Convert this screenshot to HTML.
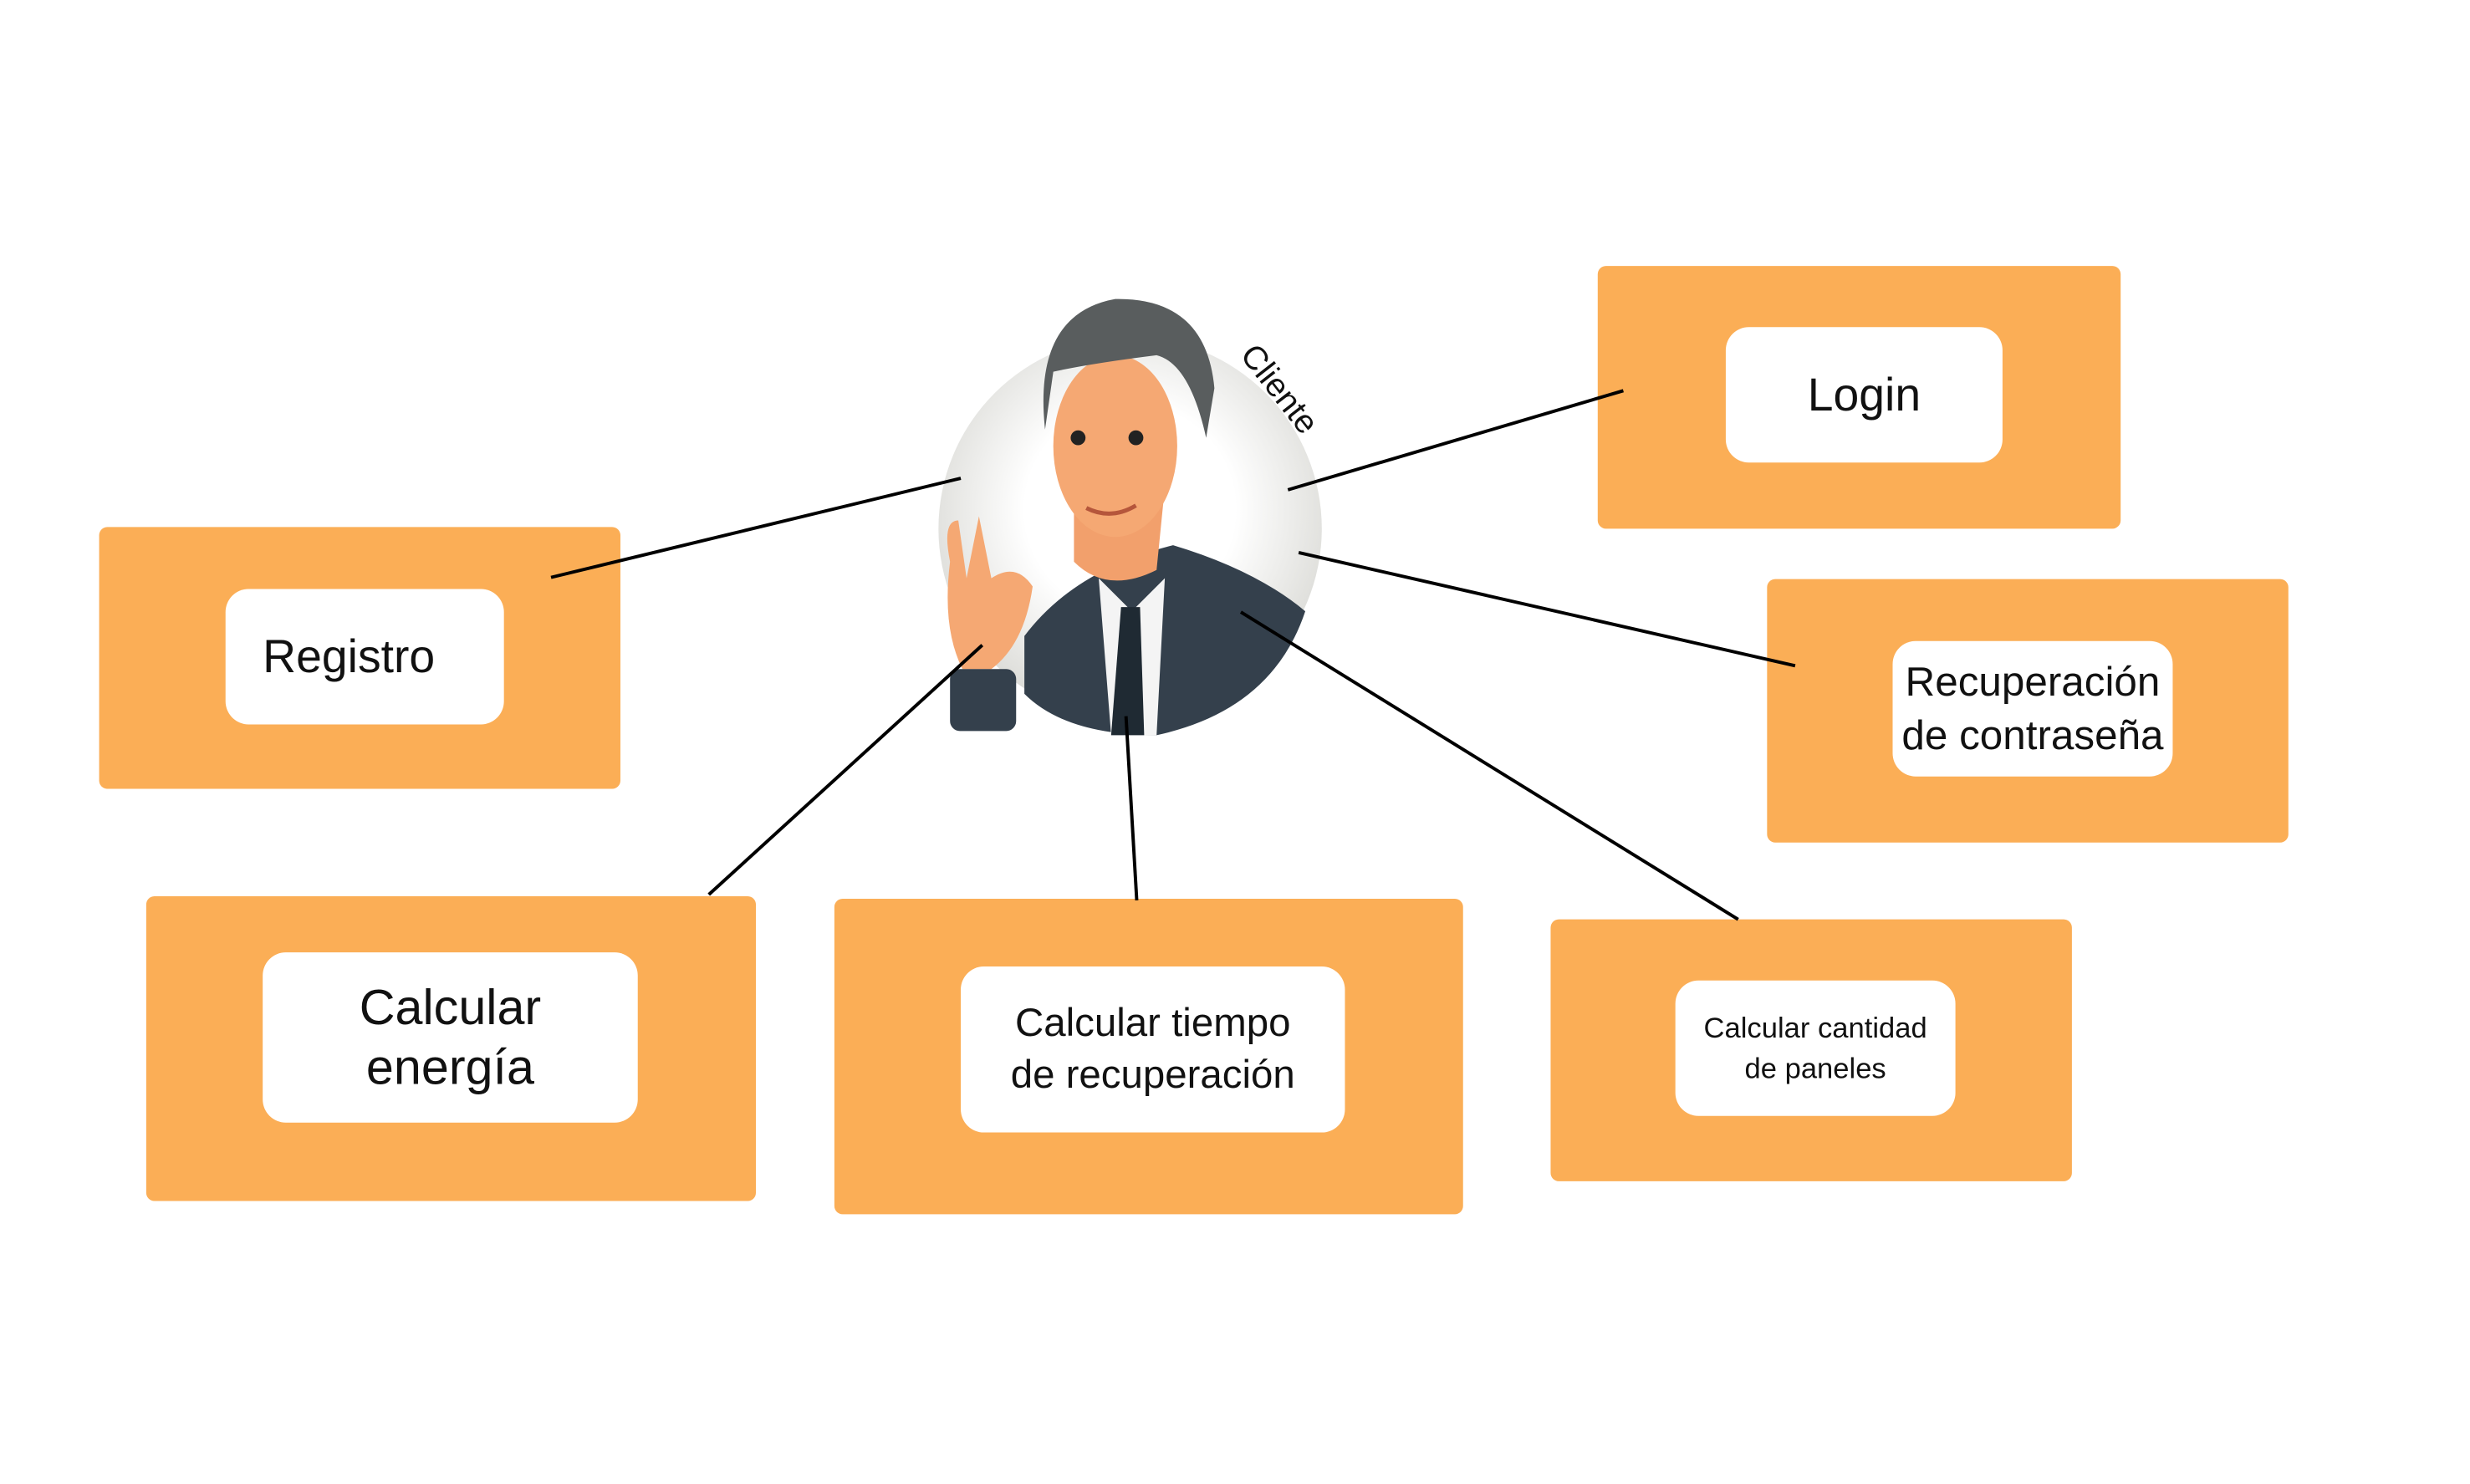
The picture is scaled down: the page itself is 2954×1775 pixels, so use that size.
<!DOCTYPE html>
<html><head><meta charset="utf-8"><style>
body{margin:0;width:2954px;height:1775px;background:#fff;position:relative;overflow:hidden;font-family:"Liberation Sans Narrow","Liberation Sans",sans-serif;}
#w{position:absolute;left:0;top:0;width:2954px;height:1775px;transform:scale(0.988);transform-origin:0 0;}
.o{position:absolute;background:#FBAE56;border-radius:10px;}
.i{position:absolute;background:#fff;border-radius:28px;display:flex;align-items:center;justify-content:center;text-align:center;color:#111;line-height:1.3;}
</style></head><body><div id="w">
<div class="o" style="left:1934px;top:322px;width:633px;height:318px"></div>
<div class="i" style="left:2089px;top:396px;width:335px;height:164px;font-size:56px">Login</div>
<div class="o" style="left:2139px;top:701px;width:631px;height:319px"></div>
<div class="i" style="left:2291px;top:776px;width:339px;height:164px;font-size:50px">Recuperación<br>de contraseña</div>
<div class="o" style="left:120px;top:638px;width:631px;height:317px"></div>
<div class="i" style="left:273px;top:713px;width:337px;height:164px;font-size:56px;justify-content:flex-start;padding-left:45px;box-sizing:border-box">Registro</div>
<div class="o" style="left:177px;top:1085px;width:738px;height:369px"></div>
<div class="i" style="left:318px;top:1153px;width:454px;height:206px;font-size:60px;line-height:1.2">Calcular<br>energía</div>
<div class="o" style="left:1010px;top:1088px;width:761px;height:382px"></div>
<div class="i" style="left:1163px;top:1170px;width:465px;height:201px;font-size:48px;line-height:1.3">Calcular tiempo<br>de recuperación</div>
<div class="o" style="left:1877px;top:1113px;width:631px;height:317px"></div>
<div class="i" style="left:2028px;top:1187px;width:339px;height:164px;font-size:35px;line-height:1.4">Calcular cantidad<br>de paneles</div>
<svg style="position:absolute;left:0;top:0" width="2954" height="1775">
<defs><radialGradient id="g" cx="0.5" cy="0.45" r="0.55"><stop offset="0.5" stop-color="#fff"/><stop offset="1" stop-color="#dcdcd8"/></radialGradient></defs>
<circle cx="1368" cy="640" r="232" fill="url(#g)"/>
<path d="M1240 770 Q1300 690 1420 660 Q1520 690 1580 740 Q1540 860 1400 890 Q1290 890 1240 840Z" fill="#34404c"/>
<path d="M1330 700 L1370 740 L1410 700 L1400 890 L1345 890Z" fill="#f4f4f4"/>
<path d="M1357 735 L1380 735 L1385 890 L1345 890Z" fill="#1f2a33"/>
<path d="M1300 560 L1300 680 Q1340 720 1400 690 L1410 590Z" fill="#f2a06c"/>
<ellipse cx="1350" cy="540" rx="75" ry="110" fill="#f5a873"/>
<path d="M1265 520 Q1250 380 1350 362 Q1460 360 1470 470 L1460 530 Q1440 440 1400 430 Q1320 440 1275 450Z" fill="#595d5e"/>
<circle cx="1305" cy="530" r="9" fill="#222"/><circle cx="1375" cy="530" r="9" fill="#222"/>
<path d="M1315 615 Q1345 630 1375 612" stroke="#b5563b" stroke-width="5" fill="none"/>
<path d="M1150 680 Q1140 630 1160 630 L1170 700 L1185 625 L1200 700 Q1230 680 1250 710 Q1240 780 1200 810 L1165 810 Q1140 760 1150 680Z" fill="#f5a873"/>
<rect x="1150" y="810" width="80" height="75" rx="12" fill="#34404c"/>
<g stroke="#000" stroke-width="4">
<line x1="667" y1="699" x2="1163" y2="579"/>
<line x1="1559" y1="593" x2="1965" y2="473"/>
<line x1="1572" y1="669" x2="2173" y2="806"/>
<line x1="858" y1="1083" x2="1189" y2="781"/>
<line x1="1376" y1="1090" x2="1363" y2="867"/>
<line x1="2104" y1="1113" x2="1502" y2="741"/>
</g>
<text x="1500" y="430" font-family="Liberation Sans, sans-serif" font-size="40" fill="#111" transform="rotate(52 1500 430)">Cliente</text>
</svg>
</div></body></html>
